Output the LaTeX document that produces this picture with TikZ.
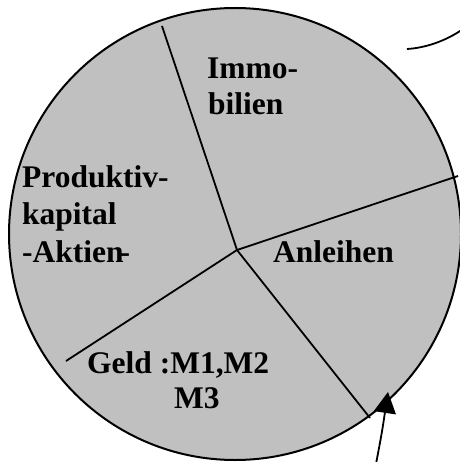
\documentclass[tikz,border=0pt]{standalone}
\usepackage{fontspec}
\setmainfont{Liberation Serif}
\usetikzlibrary{arrows.meta}
\definecolor{piegray}{RGB}{192,192,192}
\begin{document}
\begin{tikzpicture}[x=1pt,y=-1pt,
  lbl/.style={anchor=base west,inner sep=0pt,font=\fontsize{31.5}{36}\selectfont\bfseries},
  sector/.style={line width=1.8pt},
  rim/.style={line width=2pt,fill=piegray}]
\useasboundingbox (0,0) rectangle (459,462);
\draw[rim] (235,234) circle[radius=226];
\coordinate (c) at (237,250);
\coordinate (e1) at (162,26);
\coordinate (e2) at (458,176);
\coordinate (e3) at (370,418);
\coordinate (e4) at (66,361);
\draw[sector] (c) -- (e1);
\draw[sector] (c) -- (e2);
\draw[sector] (c) -- (e3);
\draw[sector] (c) -- (e4);
\node[lbl] (t1) at (207,79) {Immo-};
\node[lbl] (t2) at (208,115) {bilien};
\node[lbl] (t3) at (22,187) {Produktiv-};
\node[lbl] (t4) at (22,224) {kapital};
\node[lbl] (t5) at (22,262) {-Aktien\kern-4pt-};
\node[lbl] (t6) at (273,262) {Anleihen};
\node[lbl] (t7) at (87,373) {Geld :M1,M2};
\node[lbl] (t8) at (174,408) {M3};
\coordinate (a0) at (376,464);
\coordinate (a1) at (388,392);
\draw[line width=1.8pt,-{Triangle[length=21pt,width=22pt]}] (a0) .. controls (382,432) .. (a1);
\coordinate (b0) at (407,49);
\coordinate (b1) at (463,29);
\draw[line width=1.8pt] (b0) .. controls (425,48) and (446,41) .. (b1);
\end{tikzpicture}
\end{document}
